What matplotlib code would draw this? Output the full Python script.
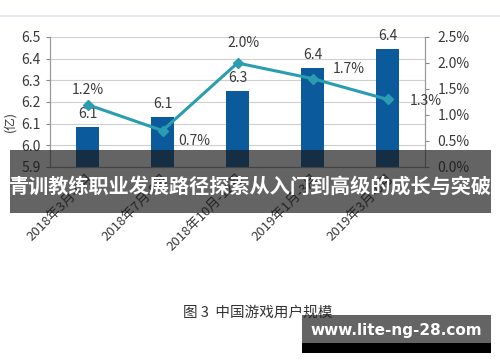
import matplotlib
matplotlib.use("Agg")
import matplotlib.pyplot as plt
from matplotlib.patches import Rectangle
from matplotlib.ticker import FuncFormatter

plt.rcParams['font.family'] = ['Noto Sans CJK SC', 'DejaVu Sans']

# data
periods = ['2018年3月-6月', '2018年7月-9月', '2018年10月-12月', '2019年1月-3月', '2019年3月-6月']
users = [6.085, 6.13, 6.25, 6.357, 6.445]          # 亿
user_labels = ['6.1', '6.1', '6.3', '6.4', '6.4']
growth = [1.2, 0.7, 2.0, 1.7, 1.3]                  # %
growth_labels = ['1.2%', '0.7%', '2.0%', '1.7%', '1.3%']

left_ticks = [5.9, 6.0, 6.1, 6.2, 6.3, 6.4, 6.5]
right_ticks = [0, 0.5, 1.0, 1.5, 2.0, 2.5]

# label offsets (pixels) for the growth labels
growth_offsets = [(0, 15), (32, -10), (6, 20), (36, 10), (38, -2)]

bar_color = '#0b5a9c'
line_color = '#2a9db0'
text_color = '#3a3a3a'

fig = plt.figure(figsize=(5.0, 3.62), dpi=100, facecolor='white')
ax = fig.add_axes([0.1, 0.5387, 0.75, 0.3591])
x = list(range(len(periods)))

ax.bar(x, users, width=0.3, color=bar_color, zorder=2)
ax.set_ylim(5.9, 6.5)
ax.set_xlim(-0.5, len(periods) - 0.5)
ax.set_yticks(left_ticks)
ax.set_yticklabels([f'{v:.1f}' for v in left_ticks])
ax.grid(True, axis='y', color='#cfcfcf', linewidth=0.8, zorder=0)
ax.set_axisbelow(True)
ax.set_ylabel('(亿)', fontsize=9, color=text_color)
ax.yaxis.set_label_coords(-0.09, 0.35)
ax.set_xticks(x)
ax.set_xticklabels(periods, rotation=45, ha='right', rotation_mode='anchor',
                   fontsize=9.5, color=text_color)
ax.tick_params(axis='y', colors=text_color, labelsize=10, length=3, color='#888888')
ax.tick_params(axis='x', length=0, pad=3)
ax.spines['top'].set_visible(False)
for side in ['left', 'right', 'bottom']:
    ax.spines[side].set_color('#999999')
    ax.spines[side].set_linewidth(0.8)

for xi, v, lab in zip(x, users, user_labels):
    ax.annotate(lab, (xi, v), xytext=(0, 6), textcoords='offset pixels',
                ha='center', va='bottom', fontsize=10, color=text_color, zorder=5)

ax2 = ax.twinx()
ax2.set_ylim(0, 2.5)
ax2.plot(x, growth, color=line_color, linewidth=2.2, marker='D', markersize=5,
         markerfacecolor=line_color, markeredgecolor=line_color, zorder=4)
ax2.set_yticks(right_ticks)
ax2.yaxis.set_major_formatter(FuncFormatter(lambda v, p: f'{v:.1f}%'))
ax2.tick_params(axis='y', colors=text_color, labelsize=10, length=3, color='#888888', pad=6)
ax2.spines['top'].set_visible(False)
for side in ['left', 'right', 'bottom']:
    ax2.spines[side].set_color('#999999')
    ax2.spines[side].set_linewidth(0.8)

for xi, v, lab, off in zip(x, growth, growth_labels, growth_offsets):
    ax2.annotate(lab, (xi, v), xytext=off, textcoords='offset pixels',
                 ha='center', va='center', fontsize=10, color=text_color, zorder=5)

# thin frame line at the top of the screenshot
fig.add_artist(plt.Line2D([0, 1], [1 - 16 / 362, 1 - 16 / 362], color='#e4e9f2', linewidth=1.5))

# banner over the chart
fig.add_artist(Rectangle((10 / 500, 1 - 213 / 362), 481 / 500, 63 / 362,
                         transform=fig.transFigure, facecolor='#1a1a1a', alpha=0.68,
                         edgecolor='none', zorder=10))
fig.text(0.5, 1 - 186 / 362, '青训教练职业发展路径探索从入门到高级的成长与突破',
         fontsize=14.5, fontweight='bold', color='white', ha='center', va='center', zorder=11)

fig.text(183 / 500, 1 - 313 / 362, '图 3  中国游戏用户规模', fontsize=10.5,
         color='#333333', ha='left', va='center')

# site stamp in the lower right corner
fig.add_artist(Rectangle((302 / 500, 1 - 343 / 362), 189 / 500, 28 / 362,
                         transform=fig.transFigure, facecolor='#1a1a1a', alpha=0.68,
                         edgecolor='none', zorder=10))
fig.add_artist(Rectangle((302 / 500, 1 - 353 / 362), 189 / 500, 10 / 362,
                         transform=fig.transFigure, facecolor='black',
                         edgecolor='none', zorder=10))
fig.text(396 / 500, 1 - 330 / 362, 'www.lite-ng-28.com', fontsize=11, fontweight='bold',
         color='white', ha='center', va='center', family=['DejaVu Sans'], zorder=11)

fig.savefig('out.png', dpi=100, facecolor='white')
